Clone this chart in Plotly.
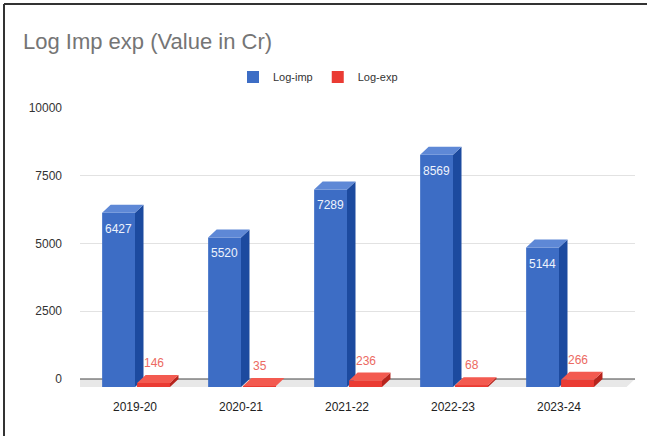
import plotly.graph_objects as go

# ---------------- data ----------------
categories = ["2019-20", "2020-21", "2021-22", "2022-23", "2023-24"]
log_imp = [6427, 5520, 7289, 8569, 5144]
log_exp = [146, 35, 236, 68, 266]
y_ticks = [0, 2500, 5000, 7500, 10000]
y_tick_text = ["0", "2500", "5000", "7500", "10000"]

# ---------------- geometry ----------------
W, H = 647, 436
ML, MR, MT, MB = 80, 12, 108, 44
PX_CAT = 106.0                       # pixels per category
FIRST_C = 135.0                      # pixel x of first category centre
x_lo = -(FIRST_C - ML) / PX_CAT
x_hi = (W - MR - FIRST_C) / PX_CAT
UPP = 10000 / 271.0                  # data units per pixel
y_hi = 10000
y_lo = -(H - MB - 379) * UPP
DX = 8.5 / PX_CAT                    # 3D depth, x (category units)
DY = 8 * UPP                         # 3D depth, y (data units)
BW = 0.31                            # bar width
OFF_IMP = -0.155
OFF_EXP = 0.175

BLUE = dict(front="#3d6dc5", side="#1c4a9f", top="#5e88d6")
RED = dict(front="#ea3b33", side="#b6241d", top="#f35a50")


def face_paths(values, off):
    fx, fy, sx, sy, tx, ty = [], [], [], [], [], []
    for i, v in enumerate(values):
        x0 = i + off - BW / 2
        x1 = i + off + BW / 2
        fx += [x0, x1, x1, x0, x0, None]
        fy += [-DY, -DY, v - DY, v - DY, -DY, None]
        sx += [x1, x1 + DX, x1 + DX, x1, x1, None]
        sy += [-DY, 0, v, v - DY, -DY, None]
        tx += [x0, x1, x1 + DX, x0 + DX, x0, None]
        ty += [v - DY, v - DY, v, v, v - DY, None]
    return (fx, fy), (sx, sy), (tx, ty)


fig = go.Figure()

# front faces as bars (legend entries)
fig.add_trace(go.Bar(
    name="Log-imp", x=[i + OFF_IMP for i in range(len(categories))], y=log_imp,
    base=[-DY] * len(categories), width=BW, marker=dict(color=BLUE["front"], line=dict(width=0)),
    hoverinfo="skip"))
fig.add_trace(go.Bar(
    name="Log-exp", x=[i + OFF_EXP for i in range(len(categories))], y=log_exp,
    base=[-DY] * len(categories), width=BW, marker=dict(color=RED["front"], line=dict(width=0)),
    hoverinfo="skip"))


def poly(xy, color):
    return go.Scatter(x=xy[0], y=xy[1], mode="lines", fill="toself", fillcolor=color,
                      line=dict(width=0, color=color), showlegend=False, hoverinfo="skip")


bf, bs, bt = face_paths(log_imp, OFF_IMP)
rf, rs, rt = face_paths(log_exp, OFF_EXP)
fig.add_trace(poly(bs, BLUE["side"]))
fig.add_trace(poly(bt, BLUE["top"]))
fig.add_trace(poly(rf, RED["front"]))
fig.add_trace(poly(rs, RED["side"]))
fig.add_trace(poly(rt, RED["top"]))

# data labels
annotations = []
for i, v in enumerate(log_imp):
    annotations.append(dict(x=i + OFF_IMP, y=v - DY, xref="x", yref="y", text=str(v),
                            showarrow=False, yshift=-16,
                            font=dict(size=12, color="#eef3fc", family="Liberation Sans, Arial")))
for i, v in enumerate(log_exp):
    annotations.append(dict(x=i + OFF_EXP, y=v, xref="x", yref="y", text=str(v),
                            showarrow=False, yshift=12,
                            font=dict(size=12, color="#ec6a62", family="Liberation Sans, Arial")))

# floor and zero line (between grid and traces), frame lines
pw = W - ML - MR
ph = H - MT - MB
shapes = [
    dict(type="path", xref="x", yref="y", layer="between",
         path=f"M {x_lo},0 L {x_hi},0 L {x_hi - DX},{-DY} L {x_lo - DX},{-DY} Z",
         fillcolor="#e8e8e8", line=dict(width=0)),
    dict(type="line", xref="x", yref="y", layer="between",
         x0=x_lo, x1=x_hi, y0=0, y1=0, line=dict(color="#444444", width=1)),
    dict(type="line", xref="paper", yref="paper", layer="above",
         x0=(4 - ML) / pw, x1=(4 - ML) / pw, y0=(H - MB - H) / ph, y1=(H - MB - 4) / ph,
         line=dict(color="#333333", width=2)),
    dict(type="line", xref="paper", yref="paper", layer="above",
         x0=(4 - ML) / pw, x1=(W - ML) / pw, y0=(H - MB - 4) / ph, y1=(H - MB - 4) / ph,
         line=dict(color="#333333", width=2)),
]

fig.update_layout(
    width=W, height=H,
    margin=dict(l=ML, r=MR, t=MT, b=MB),
    paper_bgcolor="white", plot_bgcolor="white",
    barmode="overlay",
    font=dict(family="Liberation Sans, Arial", color="#333333"),
    title=dict(text="Log Imp exp (Value in Cr)", x=23 / W, xanchor="left",
               xref="container", yref="container", y=1 - 41 / H, yanchor="middle",
               font=dict(size=22, color="#757575", family="Liberation Sans, Arial")),
    legend=dict(orientation="h", x=(318 - ML) / pw, xanchor="center",
                y=(H - MB - 77) / ph, yanchor="middle",
                font=dict(size=11, color="#333333"), bgcolor="rgba(0,0,0,0)"),
    xaxis=dict(range=[x_lo, x_hi], tickmode="array", tickvals=list(range(len(categories))),
               ticktext=categories, showgrid=False, zeroline=False, showline=False,
               ticks="", ticklabelstandoff=6,
               tickfont=dict(size=12, color="#222222")),
    yaxis=dict(range=[y_lo, y_hi], tickmode="array", tickvals=y_ticks, ticktext=y_tick_text,
               showgrid=True, gridcolor="#e2e2e2", gridwidth=1, zeroline=False,
               showline=False, ticks="", ticklabelstandoff=17,
               tickfont=dict(size=12, color="#333333")),
    shapes=shapes,
    annotations=annotations,
)

fig.write_html("out.html")
